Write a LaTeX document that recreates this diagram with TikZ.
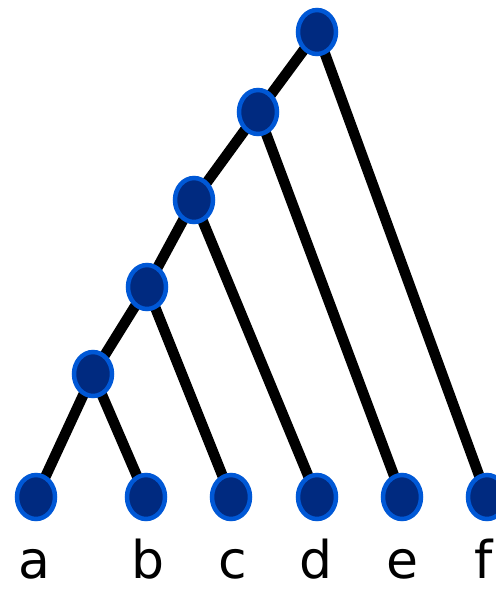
\documentclass[tikz,border=0pt]{standalone}
\usepackage{fontspec}
\setmainfont{DejaVu Sans}
\usetikzlibrary{shapes.geometric,backgrounds}
\begin{document}
\begin{tikzpicture}[x=1pt,y=-1pt,
  vert/.style={ellipse,draw=vborder,fill=vfill,line width=4.5pt,minimum width=38pt,minimum height=44pt,inner sep=0pt},
  edge/.style={line width=10.5pt,black},
  lab/.style={font=\fontsize{52}{56}\selectfont,anchor=base,inner sep=0pt}]
\definecolor{vfill}{RGB}{0,42,128}
\definecolor{vborder}{RGB}{0,88,214}
\useasboundingbox (0,0) rectangle (496,590);
\node[vert] (a) at (36,497) {};
\node[vert] (b) at (146,497) {};
\node[vert] (c) at (231,497) {};
\node[vert] (d) at (317,497) {};
\node[vert] (e) at (402,497) {};
\node[vert] (f) at (487,497) {};
\node[vert] (n1) at (93,374) {};
\node[vert] (n2) at (147,287) {};
\node[vert] (n3) at (194,200) {};
\node[vert] (n4) at (258,112) {};
\node[vert] (n5) at (317,32) {};
\begin{scope}[on background layer]
\draw[edge] (n1.center) -- (a.center);
\draw[edge] (n1.center) -- (b.center);
\draw[edge] (n2.center) -- (c.center);
\draw[edge] (n3.center) -- (d.center);
\draw[edge] (n4.center) -- (e.center);
\draw[edge] (n5.center) -- (f.center);
\draw[edge] (n1.center) -- (n2.center) -- (n3.center) -- (n4.center) -- (n5.center);
\end{scope}
\node[lab] (la) at (34,578) {a};
\node[lab] (lb) at (148,578) {b};
\node[lab] (lc) at (233,578) {c};
\node[lab] (ld) at (316,578) {d};
\node[lab] (le) at (402,578) {e};
\node[lab] (lf) at (484,578) {f};
\end{tikzpicture}
\end{document}
